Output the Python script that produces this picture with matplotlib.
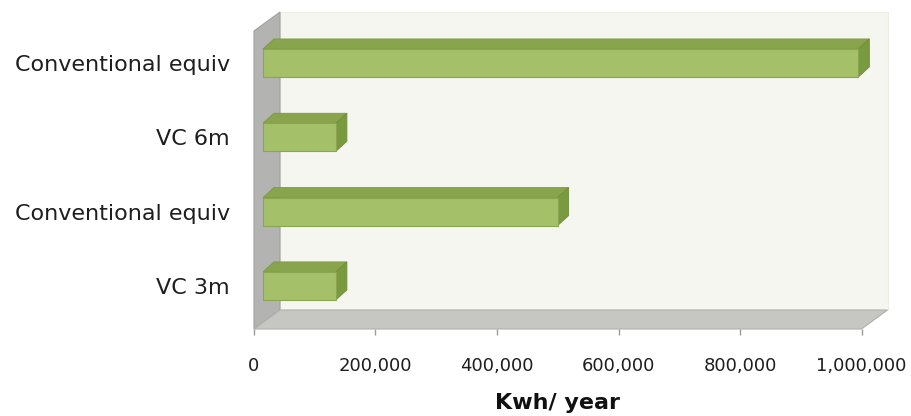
import numpy as np
import matplotlib.pyplot as plt
from matplotlib.patches import Polygon
from matplotlib.ticker import FuncFormatter

# data, bottom to top
categories = ['VC 3m', 'Conventional equiv', 'VC 6m', 'Conventional equiv']
kwh = [120000, 485000, 120000, 980000]
x_ticks = [0, 200000, 400000, 600000, 800000, 1000000]

fig = plt.figure(figsize=(9.12, 4.16), dpi=100)
# front plane of the 3d box, in pixels: x 254..861.5, y 31..329
ax = fig.add_axes([254 / 912, 87 / 416, 607.5 / 912, 298 / 416])
ax.set_xlim(0, 1e6)
ax.set_ylim(-0.58, 3.43)
ax.patch.set_visible(False)
for s in ax.spines.values():
    s.set_visible(False)

x0, x1 = ax.get_xlim()
y0, y1 = ax.get_ylim()
sx = (x1 - x0) / 607.5
sy = (y1 - y0) / 298.0


def off(dx, dy):
    # pixel offset (right, up) -> data offset
    return dx * sx, dy * sy


# walls and floor
wdx, wdy = off(26, 19)
back = [(x0 + wdx, y0 + wdy), (x1 + wdx, y0 + wdy), (x1 + wdx, y1 + wdy), (x0 + wdx, y1 + wdy)]
left = [(x0, y0), (x0, y1), (x0 + wdx, y1 + wdy), (x0 + wdx, y0 + wdy)]
floor = [(x0, y0), (x1, y0), (x1 + wdx, y0 + wdy), (x0 + wdx, y0 + wdy)]
ax.add_patch(Polygon(back, closed=True, fc='#f5f6f0', ec='#ecede6', lw=0.8, clip_on=False, zorder=0))
ax.add_patch(Polygon(left, closed=True, fc='#b3b3b1', ec='#a0a09e', lw=0.8, clip_on=False, zorder=1))
ax.add_patch(Polygon(floor, closed=True, fc='#c6c6c2', ec='#b0b0ac', lw=0.8, clip_on=False, zorder=1))

# 3d bars
shift = 9 * sx
bh = 28 * sy
bdx, bdy = off(11, 10)
for y, v in enumerate(kwh):
    ax.barh(y, v, left=shift, height=bh, color='#a4c169', edgecolor='#8aa652', lw=0.8, zorder=4)
    top = [(shift, y + bh / 2), (shift + v, y + bh / 2),
           (shift + v + bdx, y + bh / 2 + bdy), (shift + bdx, y + bh / 2 + bdy)]
    side = [(shift + v, y - bh / 2), (shift + v, y + bh / 2),
            (shift + v + bdx, y + bh / 2 + bdy), (shift + v + bdx, y - bh / 2 + bdy)]
    ax.add_patch(Polygon(top, closed=True, fc='#88a54d', ec='#7d9945', lw=0.6, clip_on=False, zorder=3))
    ax.add_patch(Polygon(side, closed=True, fc='#799a3f', ec='#6f8d3a', lw=0.6, clip_on=False, zorder=3))

ax.set_xticks(x_ticks)
ax.xaxis.set_major_formatter(FuncFormatter(lambda v, p: '{:,.0f}'.format(v)))
ax.tick_params(axis='x', length=4.3, width=1, color='#9a9a9a', pad=15.8,
               labelsize=13, labelcolor='#1e1e1e')
ax.set_yticks(range(len(categories)))
ax.set_yticklabels(categories)
ax.tick_params(axis='y', length=0, pad=17.3, labelsize=16, labelcolor='#1e1e1e')

ax.set_xlabel('Kwh/ year', fontsize=16, fontweight='bold', color='#111111', labelpad=13)

fig.savefig('out.png', dpi=100)
